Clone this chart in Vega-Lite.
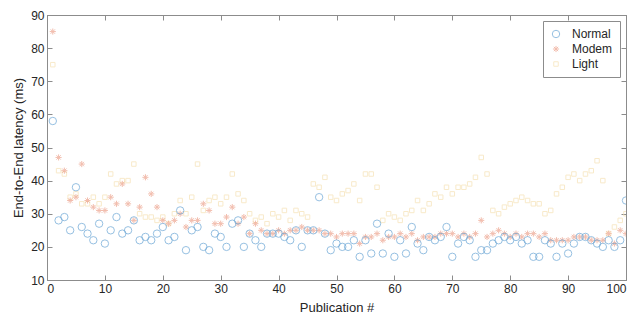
{
  "$schema": "https://vega.github.io/schema/vega-lite/v6.json",
  "width": 579,
  "height": 265,
  "autosize": {"type": "none"},
  "padding": {"left": 47, "top": 15, "right": 10, "bottom": 42},
  "background": "white",
  "config": {
    "font": "Liberation Sans",
    "view": {"stroke": "#8c8c8c", "strokeWidth": 1},
    "axis": {
      "grid": false,
      "domainColor": "#8c8c8c",
      "tickColor": "#8c8c8c",
      "tickSize": -5,
      "labelColor": "#262626",
      "titleColor": "#262626",
      "labelFontSize": 12,
      "titleFontSize": 13,
      "titleFontWeight": "normal",
      "labelPadding": 8
    }
  },
  "data": {
    "values": [
      {"pub":1,"Normal":58,"Modem":85,"Light":75},
      {"pub":2,"Normal":28,"Modem":47,"Light":43},
      {"pub":3,"Normal":29,"Modem":43,"Light":42},
      {"pub":4,"Normal":25,"Modem":34,"Light":35},
      {"pub":5,"Normal":38,"Modem":35,"Light":36},
      {"pub":6,"Normal":26,"Modem":45,"Light":33},
      {"pub":7,"Normal":24,"Modem":34,"Light":33},
      {"pub":8,"Normal":22,"Modem":32,"Light":35},
      {"pub":9,"Normal":27,"Modem":31,"Light":33},
      {"pub":10,"Normal":21,"Modem":31,"Light":35},
      {"pub":11,"Normal":25,"Modem":35,"Light":42},
      {"pub":12,"Normal":29,"Modem":33,"Light":39},
      {"pub":13,"Normal":24,"Modem":39,"Light":40},
      {"pub":14,"Normal":25,"Modem":33,"Light":40},
      {"pub":15,"Normal":28,"Modem":28,"Light":45},
      {"pub":16,"Normal":22,"Modem":32,"Light":30},
      {"pub":17,"Normal":23,"Modem":41,"Light":29},
      {"pub":18,"Normal":22,"Modem":36,"Light":29},
      {"pub":19,"Normal":24,"Modem":32,"Light":28},
      {"pub":20,"Normal":26,"Modem":28,"Light":29},
      {"pub":21,"Normal":22,"Modem":27,"Light":27},
      {"pub":22,"Normal":23,"Modem":28,"Light":30},
      {"pub":23,"Normal":31,"Modem":30,"Light":34},
      {"pub":24,"Normal":19,"Modem":26,"Light":30},
      {"pub":25,"Normal":25,"Modem":28,"Light":35},
      {"pub":26,"Normal":26,"Modem":28,"Light":45},
      {"pub":27,"Normal":20,"Modem":33,"Light":31},
      {"pub":28,"Normal":19,"Modem":31,"Light":34},
      {"pub":29,"Normal":24,"Modem":27,"Light":35},
      {"pub":30,"Normal":23,"Modem":27,"Light":33},
      {"pub":31,"Normal":20,"Modem":29,"Light":35},
      {"pub":32,"Normal":27,"Modem":32,"Light":42},
      {"pub":33,"Normal":28,"Modem":27,"Light":36},
      {"pub":34,"Normal":20,"Modem":29,"Light":34},
      {"pub":35,"Normal":24,"Modem":24,"Light":30},
      {"pub":36,"Normal":22,"Modem":27,"Light":28},
      {"pub":37,"Normal":20,"Modem":25,"Light":29},
      {"pub":38,"Normal":24,"Modem":24,"Light":27},
      {"pub":39,"Normal":24,"Modem":24,"Light":30},
      {"pub":40,"Normal":24,"Modem":25,"Light":29},
      {"pub":41,"Normal":23,"Modem":24,"Light":31},
      {"pub":42,"Normal":22,"Modem":25,"Light":28},
      {"pub":43,"Normal":25,"Modem":25,"Light":31},
      {"pub":44,"Normal":20,"Modem":26,"Light":30},
      {"pub":45,"Normal":25,"Modem":25,"Light":29},
      {"pub":46,"Normal":25,"Modem":25,"Light":39},
      {"pub":47,"Normal":35,"Modem":25,"Light":38},
      {"pub":48,"Normal":24,"Modem":24,"Light":41},
      {"pub":49,"Normal":19,"Modem":24,"Light":35},
      {"pub":50,"Normal":21,"Modem":23,"Light":34},
      {"pub":51,"Normal":20,"Modem":24,"Light":36},
      {"pub":52,"Normal":20,"Modem":24,"Light":37},
      {"pub":53,"Normal":22,"Modem":24,"Light":39},
      {"pub":54,"Normal":17,"Modem":21,"Light":34},
      {"pub":55,"Normal":22,"Modem":23,"Light":42},
      {"pub":56,"Normal":18,"Modem":23,"Light":42},
      {"pub":57,"Normal":27,"Modem":24,"Light":38},
      {"pub":58,"Normal":18,"Modem":22,"Light":28},
      {"pub":59,"Normal":24,"Modem":23,"Light":30},
      {"pub":60,"Normal":17,"Modem":23,"Light":29},
      {"pub":61,"Normal":22,"Modem":24,"Light":28},
      {"pub":62,"Normal":18,"Modem":23,"Light":30},
      {"pub":63,"Normal":26,"Modem":24,"Light":31},
      {"pub":64,"Normal":21,"Modem":22,"Light":34},
      {"pub":65,"Normal":19,"Modem":23,"Light":31},
      {"pub":66,"Normal":23,"Modem":23,"Light":33},
      {"pub":67,"Normal":22,"Modem":23,"Light":36},
      {"pub":68,"Normal":23,"Modem":24,"Light":35},
      {"pub":69,"Normal":26,"Modem":24,"Light":38},
      {"pub":70,"Normal":17,"Modem":24,"Light":36},
      {"pub":71,"Normal":21,"Modem":23,"Light":38},
      {"pub":72,"Normal":23,"Modem":24,"Light":38},
      {"pub":73,"Normal":22,"Modem":23,"Light":39},
      {"pub":74,"Normal":17,"Modem":24,"Light":41},
      {"pub":75,"Normal":19,"Modem":28,"Light":47},
      {"pub":76,"Normal":19,"Modem":23,"Light":42},
      {"pub":77,"Normal":21,"Modem":24,"Light":31},
      {"pub":78,"Normal":22,"Modem":25,"Light":30},
      {"pub":79,"Normal":23,"Modem":24,"Light":32},
      {"pub":80,"Normal":22,"Modem":23,"Light":33},
      {"pub":81,"Normal":23,"Modem":24,"Light":34},
      {"pub":82,"Normal":21,"Modem":23,"Light":35},
      {"pub":83,"Normal":22,"Modem":24,"Light":34},
      {"pub":84,"Normal":17,"Modem":24,"Light":33},
      {"pub":85,"Normal":17,"Modem":23,"Light":33},
      {"pub":86,"Normal":22,"Modem":24,"Light":30},
      {"pub":87,"Normal":21,"Modem":22,"Light":31},
      {"pub":88,"Normal":17,"Modem":22,"Light":36},
      {"pub":89,"Normal":21,"Modem":22,"Light":38},
      {"pub":90,"Normal":18,"Modem":22,"Light":41},
      {"pub":91,"Normal":21,"Modem":23,"Light":42},
      {"pub":92,"Normal":23,"Modem":23,"Light":40},
      {"pub":93,"Normal":23,"Modem":23,"Light":42},
      {"pub":94,"Normal":22,"Modem":22,"Light":43},
      {"pub":95,"Normal":21,"Modem":22,"Light":46},
      {"pub":96,"Normal":20,"Modem":22,"Light":40},
      {"pub":97,"Normal":22,"Modem":24,"Light":24},
      {"pub":98,"Normal":20,"Modem":21,"Light":26},
      {"pub":99,"Normal":22,"Modem":25,"Light":28},
      {"pub":100,"Normal":34,"Modem":24,"Light":30}
    ]
  },
  "transform": [
    {"fold": ["Normal", "Modem", "Light"], "as": ["series", "latency"]}
  ],
  "layer": [
    {
      "mark": {"type": "point", "filled": false, "strokeWidth": 1, "clip": true},
      "encoding": {
        "x": {"field": "pub", "type": "quantitative",
              "scale": {"domain": [0, 100], "nice": false},
              "axis": {"values": [0,10,20,30,40,50,60,70,80,90,100], "title": "Publication #", "titlePadding": 7}},
        "y": {"field": "latency", "type": "quantitative",
              "scale": {"domain": [10, 90], "nice": false, "zero": false},
              "axis": {"values": [10,20,30,40,50,60,70,80,90], "title": "End-to-End latency (ms)", "titlePadding": 5}},
        "color": {"field": "series", "type": "nominal",
                  "scale": {"domain": ["Normal", "Modem", "Light"], "range": ["#6aa6d6", "#eda28c", "#f6e2b5"]},
                  "legend": {"title": null, "orient": "top-right", "offset": 6, "strokeColor": "#8c8c8c", "fillColor": "white", "padding": 7, "labelFontSize": 12, "labelColor": "#262626", "symbolStrokeWidth": 1, "symbolSize": 60, "labelOffset": 10, "rowPadding": 3}},
        "shape": {"field": "series", "type": "nominal",
                  "scale": {"domain": ["Normal", "Modem", "Light"], "range": ["circle", "M-1,0L1,0M0,-1L0,1M-0.7,-0.7L0.7,0.7M-0.7,0.7L0.7,-0.7", "square"]}},
        "size": {"field": "series", "type": "nominal",
                 "scale": {"domain": ["Normal", "Modem", "Light"], "range": [55, 20, 55]}, "legend": null},
        "order": {"field": "series", "type": "nominal"}
      }
    },
    {
      "mark": {"type": "point", "opacity": 0},
      "encoding": {
        "x": {"field": "pub", "type": "quantitative",
              "axis": {"orient": "top", "labels": false, "title": null, "values": [0,10,20,30,40,50,60,70,80,90,100]}},
        "y": {"field": "latency", "type": "quantitative",
              "axis": {"orient": "right", "labels": false, "title": null, "values": [10,20,30,40,50,60,70,80,90]}}
      }
    }
  ],
  "resolve": {"axis": {"x": "independent", "y": "independent"}}
}
